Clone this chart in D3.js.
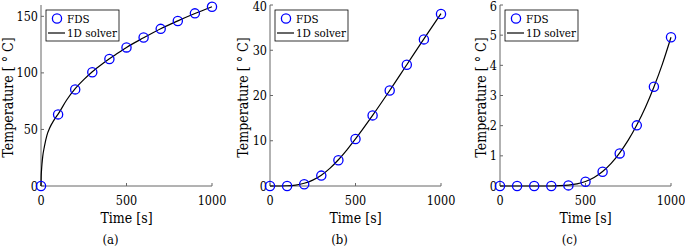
<!DOCTYPE html>
<html><head><meta charset="utf-8">
<script src="https://cdn.jsdelivr.net/npm/d3@7"></script>
<style>body{margin:0;background:#fff}svg{display:block}text{font-family:"DejaVu Serif Condensed","DejaVu Serif",serif;font-stretch:condensed;fill:#000}</style>
</head><body><svg id="c" width="685" height="247"></svg>
<script>
// FDS sample times and values
const fdsTime = [0,100,200,300,400,500,600,700,800,900,1000];
const fdsA = [0,63.3,85.4,100.6,112.3,122.5,131.3,138.9,145.9,152.6,158.5];
const fdsB = [0,0,0.4,2.3,5.7,10.4,15.6,21.1,26.8,32.4,38.0];
const fdsC = [0,0,0,0,0.02,0.14,0.47,1.08,2.01,3.29,4.93];
// 1D solver curves
const solverTimeA = [0,1,3,6,10,20,35,50,75,100,150,200,250,300,350,400,450,500,600,700,800,900,1000];
const solverA = [0,8,14,20,26,35,45,51,58,63.5,76,86,94,101,107,112.5,117.5,122.5,131,139,146,152.5,158.5];
const solverTimeB = [0,100,150,200,250,300,350,400,450,500,600,700,800,900,1000];
const solverB = [0,0.05,0.2,0.6,1.3,2.4,3.9,5.8,8.0,10.4,15.6,21.1,26.8,32.5,38.1];
const solverTimeC = [0,300,350,400,450,500,550,600,650,700,750,800,850,900,950,1000];
const solverC = [0,0,0.01,0.03,0.07,0.15,0.28,0.48,0.75,1.1,1.52,2.02,2.6,3.28,4.05,4.93];
const xTicks = [0,500,1000];
const yTicksA = [0,50,100,150];
const yTicksB = [0,10,20,30,40];
const yTicksC = [0,1,2,3,4,5,6];
const panelLabels = ["(a)","(b)","(c)"];
const legendLabels = ["FDS","1D solver"];

const panels = [
  {left:41, ymax:160, yt:yTicksA, ft:fdsA, st:solverTimeA, sv:solverA, lbl:panelLabels[0], ylx:8},
  {left:270, ymax:40, yt:yTicksB, ft:fdsB, st:solverTimeB, sv:solverB, lbl:panelLabels[1], ylx:243},
  {left:500, ymax:6, yt:yTicksC, ft:fdsC, st:solverTimeC, sv:solverC, lbl:panelLabels[2], ylx:481}
];
const svg = d3.select("#c");
const W = 171, plotTop = 5, plotBottom = 186;
const axisColor = "#666";

panels.forEach(p => {
  const x = d3.scaleLinear().domain([0,1000]).range([p.left, p.left+W]);
  const y = d3.scaleLinear().domain([0,p.ymax]).range([plotBottom, plotTop]);
  const g = svg.append("g");
  g.append("line").attr("x1",p.left).attr("x2",p.left).attr("y1",plotTop).attr("y2",plotBottom).attr("stroke",axisColor).attr("stroke-width",1);
  g.append("line").attr("x1",p.left).attr("x2",p.left+W).attr("y1",plotBottom).attr("y2",plotBottom).attr("stroke",axisColor).attr("stroke-width",1);
  xTicks.forEach(t => {
    g.append("line").attr("x1",x(t)).attr("x2",x(t)).attr("y1",plotBottom).attr("y2",plotBottom-3).attr("stroke",axisColor);
    g.append("text").attr("x",x(t)).attr("y",204.5).attr("text-anchor","middle").attr("font-size",12.5).text(t);
  });
  p.yt.forEach(t => {
    g.append("line").attr("x1",p.left).attr("x2",p.left+3).attr("y1",y(t)).attr("y2",y(t)).attr("stroke",axisColor);
    g.append("text").attr("x",p.left-3).attr("y",Math.max(y(t)+4.6, 11)).attr("text-anchor","end").attr("font-size",12.5).text(t);
  });
  g.append("text").attr("x",p.left+W/2).attr("y",223).attr("text-anchor","middle").attr("font-size",14).text("Time [s]");
  g.append("text").attr("transform",`translate(${p.ylx+5},${(plotTop+plotBottom)/2+2}) rotate(-90)`).attr("text-anchor","middle").attr("font-size",14).text("Temperature [ ° C]");
  g.append("text").attr("x",p.left+W/2-16).attr("y",244).attr("text-anchor","middle").attr("font-size",13).text(p.lbl);
  const line = d3.line().x((d,i)=>x(p.st[i])).y(d=>y(d)).curve(d3.curveMonotoneX);
  g.append("path").datum(p.sv).attr("d",line).attr("fill","none").attr("stroke","#000").attr("stroke-width",1.2);
  g.selectAll("circle.f").data(p.ft).enter().append("circle")
    .attr("cx",(d,i)=>x(fdsTime[i])).attr("cy",d=>y(d)).attr("r",4.6)
    .attr("fill","none").attr("stroke","#0000ff").attr("stroke-width",1.3);
  const lx = p.left+5, ly = 10;
  g.append("rect").attr("x",lx).attr("y",ly).attr("width",73).attr("height",31).attr("fill","#fff").attr("stroke","#000").attr("stroke-width",0.8);
  g.append("circle").attr("cx",lx+11).attr("cy",ly+8.5).attr("r",4.6).attr("fill","none").attr("stroke","#0000ff").attr("stroke-width",1.3);
  g.append("text").attr("x",lx+21).attr("y",ly+12.8).attr("font-size",11.5).text(legendLabels[0]);
  g.append("line").attr("x1",lx+2).attr("x2",lx+19).attr("y1",ly+23).attr("y2",ly+23).attr("stroke","#000").attr("stroke-width",1.2);
  g.append("text").attr("x",lx+21).attr("y",ly+27.3).attr("font-size",11.5).text(legendLabels[1]);
});
</script></body></html>
